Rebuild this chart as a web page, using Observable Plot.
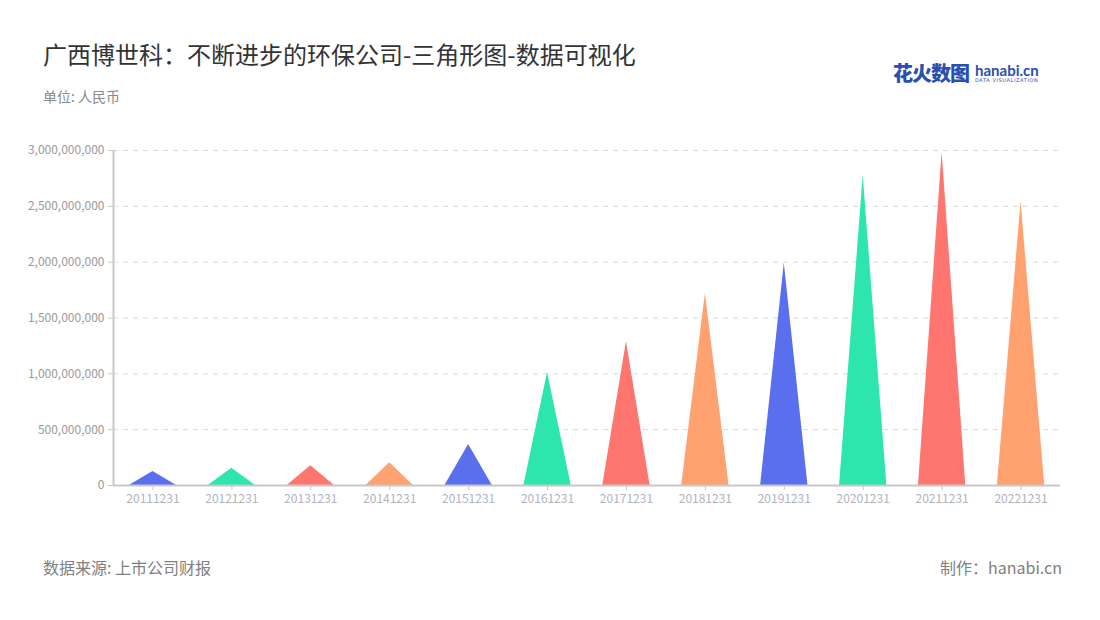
<!DOCTYPE html>
<html><head><meta charset="utf-8">
<script src="https://cdn.jsdelivr.net/npm/d3@7"></script>
<script src="https://cdn.jsdelivr.net/npm/@observablehq/plot@0.6"></script>
<style>
body{margin:0;background:#fff;font-family:"Noto Sans CJK SC","Noto Sans",sans-serif;}
#wrap{position:relative;width:1100px;height:620px;overflow:hidden;}
#title{position:absolute;left:43px;top:36px;font-size:24px;color:#333;}
#sub{position:absolute;left:43px;top:86px;font-size:14px;color:#8a8a8a;}
#src{position:absolute;left:43px;top:555px;font-size:16px;color:#808080;}
#by{position:absolute;right:38px;top:555px;font-size:16px;color:#808080;}
#logo{position:absolute;left:893px;top:58px;display:flex;align-items:center;}
#logo .cn{font-size:20px;font-weight:900;color:#2a4fb0;letter-spacing:-1px;}
#logo .en{margin-left:6px;line-height:1;}
#logo .en b{display:block;font-family:Lato,sans-serif;font-size:15px;font-weight:700;color:#2a4fb0;}
#logo .en i{display:block;font-style:normal;font-size:5px;color:#2a4fb0;letter-spacing:0.6px;font-family:"DejaVu Sans";}
#chart{position:absolute;left:0;top:110px;}
</style></head>
<body><div id="wrap">
<div id="title">广西博世科：不断进步的环保公司-三角形图-数据可视化</div>
<div id="sub">单位: 人民币</div>
<div id="logo"><span class="cn">花火数图</span><span class="en"><b>hanabi.cn</b><i>DATA VISUALIZATION</i></span></div>
<div id="chart"></div>
<div id="src">数据来源: 上市公司财报</div>
<div id="by">制作：hanabi.cn</div>
</div>
<script>
const dates = ["20111231","20121231","20131231","20141231","20151231","20161231","20171231","20181231","20191231","20201231","20211231","20221231"];
const values = [125e6,155e6,177e6,203e6,367e6,1012e6,1290e6,1720e6,1990e6,2776e6,2985e6,2543e6];
const palette = ["#5a6fee","#2de6ae","#ff7670","#ffa26f"];
const yTicks = [0,5e8,1e9,1.5e9,2e9,2.5e9,3e9];

const half = 0.3;
const pts = [];
dates.forEach((d,i)=>{
  const c = palette[i%4];
  pts.push({x:i-half,y:0,k:d,c});
  pts.push({x:i,y:values[i],k:d,c});
  pts.push({x:i+half,y:0,k:d,c});
});

const chart = Plot.plot({
  width:1100, height:420,
  marginLeft:113, marginRight:40, marginTop:40, marginBottom:45,
  style:{fontFamily:"'Noto Sans CJK SC','Noto Sans',sans-serif",fontSize:"12px",color:"#999",background:"transparent"},
  x:{type:"linear",domain:[-0.5,dates.length-0.5],axis:null,label:null},
  y:{domain:[0,3e9],axis:null,label:null},
  marks:[
    Plot.gridY(yTicks.slice(1),{stroke:"#d9d9d9",strokeOpacity:1,strokeDasharray:"5,5"}),
    Plot.areaY(pts,{x:"x",y:"y",z:"k",fill:"c",curve:"linear"}),
    Plot.ruleY([0],{stroke:"#c8c8c8",strokeWidth:2}),
    Plot.ruleX([-0.5],{stroke:"#c8c8c8",strokeWidth:2}),
    Plot.axisY(yTicks,{label:null,tickSize:5,tickPadding:4,stroke:"#c8c8c8",fill:"#9a9a9a",tickFormat:d=>d3.format(",")(d),fontSize:12}),
    Plot.axisX(d3.range(dates.length),{label:null,tickSize:5,tickPadding:4,stroke:"#c8c8c8",fill:"#b0b3c0",tickFormat:i=>dates[i],fontSize:12})
  ]
});
document.getElementById("chart").appendChild(chart);
</script>
</body></html>
